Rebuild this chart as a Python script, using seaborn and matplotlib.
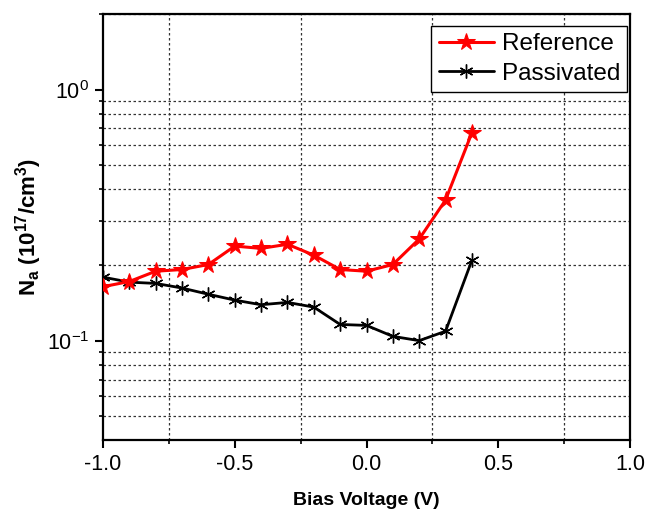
import numpy as np
import pandas as pd
import matplotlib
matplotlib.use("Agg")
import matplotlib.pyplot as plt
import matplotlib.ticker as mticker
import seaborn as sns

# ---- data ----
bias = [-1.0, -0.9, -0.8, -0.7, -0.6, -0.5, -0.4, -0.3, -0.2, -0.1, 0.0, 0.1, 0.2, 0.3, 0.4]
reference = [0.164, 0.172, 0.189, 0.192, 0.201, 0.238, 0.233, 0.242, 0.219, 0.192, 0.189, 0.201, 0.254, 0.363, 0.673]
passivated = [0.179, 0.171, 0.169, 0.162, 0.153, 0.145, 0.139, 0.142, 0.136, 0.116, 0.115, 0.104, 0.100, 0.109, 0.209]
series_names = ["Reference", "Passivated"]
xticks = [-1.0, -0.5, 0.0, 0.5, 1.0]

sns.set_style("white")
plt.rcParams['font.family'] = ['Liberation Sans', 'DejaVu Sans']
plt.rcParams['mathtext.fontset'] = 'custom'
plt.rcParams['mathtext.rm'] = 'Liberation Sans'
plt.rcParams['mathtext.bf'] = 'Liberation Sans:bold'
plt.rcParams['mathtext.it'] = 'Liberation Sans:italic'
plt.rcParams['mathtext.default'] = 'regular'
plt.rcParams['text.color'] = 'black'
plt.rcParams['axes.labelcolor'] = 'black'
plt.rcParams['xtick.color'] = 'black'
plt.rcParams['ytick.color'] = 'black'

df_ref = pd.DataFrame({"x": bias, "y": reference})
df_pas = pd.DataFrame({"x": bias, "y": passivated})

fig = plt.figure(figsize=(6.45, 5.11), dpi=100)
ax = fig.add_axes([103/645, 1-440/511, (630-103)/645, (440-14)/511])

sns.lineplot(data=df_pas, x="x", y="y", ax=ax, color="black", marker=(6, 2, 0),
             markersize=10, markeredgecolor="black", markeredgewidth=1.0, lw=2.0,
             label=series_names[1], zorder=3)
sns.lineplot(data=df_ref, x="x", y="y", ax=ax, color="red", marker="*",
             markersize=13, markeredgecolor="red", lw=2.2,
             label=series_names[0], zorder=4)

ax.set_yscale("log")
ax.set_xlim(-1.0, 1.0)
ax.set_ylim(0.0402, 2.0)
ax.set_xticks(xticks)
ax.xaxis.set_major_formatter(mticker.FormatStrFormatter('%.1f'))
ax.xaxis.set_minor_locator(mticker.MultipleLocator(0.25))
ax.yaxis.set_major_locator(mticker.LogLocator(base=10))
ax.yaxis.set_minor_locator(mticker.LogLocator(base=10, subs=np.arange(2, 10)))
ax.yaxis.set_minor_formatter(mticker.NullFormatter())

ax.grid(False)
ax.grid(which='minor', linestyle=(0, (2, 2)), color='#333333', linewidth=0.9)

for s in ax.spines.values():
    s.set_linewidth(1.6)
    s.set_color('black')
    s.set_visible(True)

ax.tick_params(which='major', direction='out', length=6, width=1.5, labelsize=15.5,
               color='black', labelcolor='black', bottom=True, left=True, pad=4)
ax.tick_params(which='minor', direction='out', length=3, width=1.2, color='black',
               bottom=True, left=True)

ax.set_xlabel("Bias Voltage (V)", fontsize=14, fontweight='bold', labelpad=12)
ax.set_ylabel(r"$\mathbf{N_a\ (10^{17}/cm^3)}$", fontsize=16, labelpad=2)

handles, labels = ax.get_legend_handles_labels()
order = [labels.index(series_names[0]), labels.index(series_names[1])]
leg = ax.legend([handles[i] for i in order], [labels[i] for i in order],
                loc='upper right', bbox_to_anchor=(0.995, 0.972), borderaxespad=0,
                fontsize=17.5, frameon=True, fancybox=False, edgecolor='black',
                handlelength=2.3, handletextpad=0.3, labelspacing=0.3,
                borderpad=0.3, framealpha=1)
leg.get_frame().set_linewidth(1.0)

fig.savefig("out.png", dpi=100)
